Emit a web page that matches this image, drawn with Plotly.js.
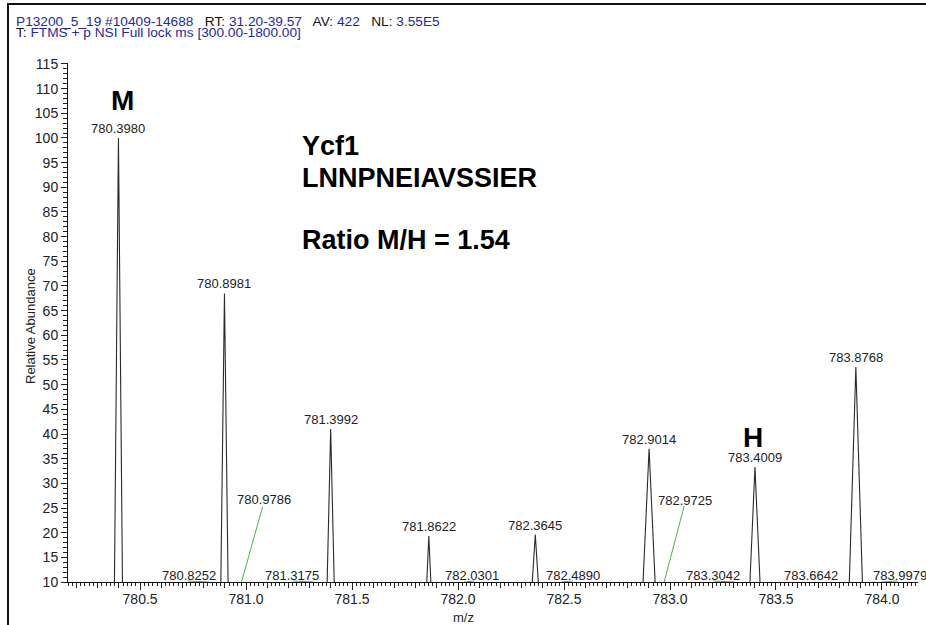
<!DOCTYPE html>
<html><head><meta charset="utf-8">
<script src="https://cdn.plot.ly/plotly-3.0.1.min.js"></script>
<style>
html,body{margin:0;padding:0;background:#fff;overflow:hidden}
#chart{width:926px;height:625px;position:absolute;left:0;top:0}
#frame{position:absolute;left:7px;top:3px;width:940px;height:640px;border-left:2px solid #111;border-top:2px solid #111;pointer-events:none}
</style></head><body>
<div id="chart"></div><div id="frame"></div>
<script>
// ---- data ----
const peakMz        = [780.3980, 780.8981, 781.3992, 781.8622, 782.3645, 782.9014, 783.4009, 783.8768];
const peakHeight    = [100.0, 68.5, 41.0, 19.3, 19.6, 37.0, 33.3, 53.6];
const peakHalfWidth = [0.021, 0.020, 0.022, 0.020, 0.029, 0.039, 0.034, 0.038];
const peakLabels    = ['780.3980','780.8981','781.3992','781.8622','782.3645','782.9014','783.4009','783.8768'];

// small labelled peaks (below the 10 % floor of the view)
const minorMz        = [780.8252, 780.9786, 781.3175, 782.0301, 782.4890, 782.9725, 783.3042, 783.6642, 783.9979];
const minorHeight    = [4, 6, 4, 3, 4, 6, 4, 3, 4];
const minorHalfWidth = [0.02, 0.02, 0.02, 0.02, 0.02, 0.02, 0.02, 0.02, 0.02];
const minorLabels    = ['780.8252','780.9786','781.3175','782.0301','782.4890','782.9725','783.3042','783.6642','783.9979'];

const xTickStep = 0.5;
const yTickStep = 5;
const xRange = [780.16, 784.17];
const yRange = [10, 115.2];

// ---- layout helpers (pixel placement of labels) ----
const FONT = 'Arial, "Liberation Sans", sans-serif';
const L = 68, R = 918, T = 63, B = 582;
const px = x => (x - L) / (R - L);
const py = y => (B - y) / (B - T);
// label offsets for minor peaks: [dx, dy up] of label centre, leader end [dx, dy up]
const minorLabelOffset = [[-20, 7], [22, 83], [-21, 7], [8, 7], [11, 7], [21, 82], [-21, 7], [0, 7], [18, 7]];
const minorLeaderEnd   = [[-21, 1], [21, 75], [-20, 1], [10, 1], [11, 1], [20, 76], [-21, 1], null, [16, 1]];

// ---- build profile line from peak arrays ----
const all = [];
peakMz.forEach((m, i) => all.push([m, peakHeight[i], peakHalfWidth[i]]));
minorMz.forEach((m, i) => all.push([m, minorHeight[i], minorHalfWidth[i]]));
all.sort((a, b) => a[0] - b[0]);
const profX = [], profY = [];
all.forEach(p => { profX.push(p[0] - p[2], p[0], p[0] + p[2]); profY.push(0, p[1], 0); });

const traces = [
  {x: profX, y: profY, type: 'scatter', mode: 'lines', line: {color: '#2a2a2a', width: 1.1}, hoverinfo: 'skip', xaxis: 'x', yaxis: 'y'},
  {x: minorMz, y: minorHeight, type: 'scatter', mode: 'markers', marker: {opacity: 0}, hoverinfo: 'skip', xaxis: 'x2', yaxis: 'y'}
];

const ann = [];
peakMz.forEach((m, i) => ann.push({x: m, y: peakHeight[i], xref: 'x', yref: 'y', text: peakLabels[i], showarrow: false,
  xanchor: 'center', yanchor: 'bottom', yshift: 0, font: {family: FONT, size: 13, color: '#222'}}));
const shapes = [];
minorMz.forEach((m, i) => {
  const o = minorLabelOffset[i];
  ann.push({x: m, y: yRange[0], xref: 'x', yref: 'y', text: minorLabels[i], showarrow: false,
    xanchor: 'center', yanchor: 'middle', xshift: o[0], yshift: o[1], font: {family: FONT, size: 13, color: '#222'}});
  const e = minorLeaderEnd[i];
  if (e) shapes.push({type: 'line', xref: 'x', yref: 'y', xsizemode: 'pixel', ysizemode: 'pixel',
    xanchor: m, yanchor: yRange[0], x0: 0, x1: e[0], y0: 0, y1: e[1], line: {color: '#4db04d', width: 1}});
});
const bold = (x, y, t, s, xa) => ({x: px(x), y: py(y), xref: 'paper', yref: 'paper', text: t, showarrow: false,
  xanchor: xa || 'left', yanchor: 'middle', font: {family: FONT, size: s, color: '#000', weight: 'bold'}});
ann.push(bold(122, 100, '<b>M</b>', 28, 'center'));
ann.push(bold(753, 437, '<b>H</b>', 28, 'center'));
ann.push(bold(300, 146, '<b>Ycf1</b>', 27));
ann.push(bold(300, 178, '<b>LNNPNEIAVSSIER</b>', 27));
ann.push(bold(300, 240, '<b>Ratio M/H = 1.54</b>', 27));

const BLUE = '#1f2a9e';
const b = s => '<span style="color:' + BLUE + '">' + s + '</span>';
ann.push({x: px(14), y: py(22), xref: 'paper', yref: 'paper', xanchor: 'left', yanchor: 'middle', showarrow: false,
  text: b('P13200_5_19') + ' ' + b('#10409-14688') + '&nbsp;&nbsp; RT: ' + b('31.20-39.57') + '&nbsp;&nbsp; AV: ' + b('422') + '&nbsp;&nbsp; NL: ' + b('3.55E5'),
  font: {family: FONT, size: 13.7, color: '#111'}});
ann.push({x: px(14), y: py(33), xref: 'paper', yref: 'paper', xanchor: 'left', yanchor: 'middle', showarrow: false,
  text: 'T: ' + b('FTMS + p NSI Full lock ms [300.00-1800.00]'), font: {family: FONT, size: 13.7, color: '#111'}});
ann.push({x: px(30), y: py(326), xref: 'paper', yref: 'paper', xanchor: 'center', yanchor: 'middle', showarrow: false,
  text: 'Relative Abundance', textangle: -90, font: {family: FONT, size: 13, color: '#222'}});
ann.push({x: px(463), y: py(617), xref: 'paper', yref: 'paper', xanchor: 'center', yanchor: 'middle', showarrow: false,
  text: 'm/z', font: {family: FONT, size: 13, color: '#222'}});

const layout = {
  width: 926, height: 625, margin: {l: L, r: 926 - R, t: T, b: 625 - B, pad: 0},
  paper_bgcolor: '#fff', plot_bgcolor: '#fff', showlegend: false,
  xaxis: {range: xRange, tickmode: 'linear', tick0: 780, dtick: xTickStep, tickformat: '.1f',
    ticks: 'outside', ticklen: 7, tickwidth: 1, tickcolor: '#222', showline: true, linecolor: '#111', linewidth: 1,
    showgrid: false, zeroline: false, tickfont: {family: FONT, size: 14, color: '#222'}, ticklabelstandoff: -3,
    minor: {dtick: 0.1, ticks: 'outside', ticklen: 5, tickcolor: '#222', showgrid: false}, fixedrange: true},
  xaxis2: {overlaying: 'x', anchor: 'y', side: 'bottom', range: xRange, tickmode: 'linear', tick0: 780, dtick: 0.02,
    ticks: 'outside', ticklen: 3, tickcolor: '#222', showticklabels: false, showline: false, showgrid: false, zeroline: false, fixedrange: true},
  yaxis: {range: yRange, tickmode: 'linear', tick0: 0, dtick: yTickStep, ticks: 'outside', ticklen: 6, tickwidth: 1,
    tickcolor: '#222', showline: true, linecolor: '#111', linewidth: 1, showgrid: false, zeroline: false,
    tickfont: {family: FONT, size: 14, color: '#222'},
    minor: {dtick: 1, ticks: 'outside', ticklen: 4, tickcolor: '#222', showgrid: false}, fixedrange: true},
  annotations: ann, shapes: shapes
};
Plotly.newPlot('chart', traces, layout, {displayModeBar: false, staticPlot: true});
</script></body></html>
